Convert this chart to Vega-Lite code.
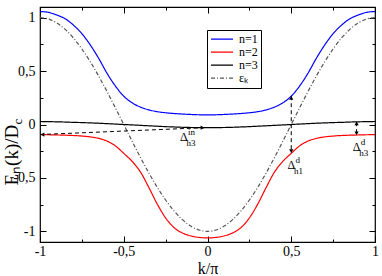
{
  "$schema": "https://vega.github.io/schema/vega-lite/v6.json",
  "width": 335,
  "height": 235,
  "autosize": {"type": "none"},
  "padding": {"left": 40, "top": 7, "right": 7, "bottom": 34},
  "background": "white",
  "config": {"view": {"stroke": "#000", "strokeWidth": 1.2}, "font": "Liberation Serif"},
  "datasets": {
    "curves": [
      {"k": -1, "n=1": 1.058, "n=2": -0.095, "n=3": 0.028, "εₖ": 1},
      {"k": -0.95, "n=1": 1.05, "n=2": -0.096, "n=3": 0.027, "εₖ": 0.988},
      {"k": -0.9, "n=1": 1.025, "n=2": -0.098, "n=3": 0.025, "εₖ": 0.951},
      {"k": -0.85, "n=1": 0.99, "n=2": -0.1, "n=3": 0.023, "εₖ": 0.891},
      {"k": -0.8, "n=1": 0.93, "n=2": -0.103, "n=3": 0.02, "εₖ": 0.809},
      {"k": -0.75, "n=1": 0.85, "n=2": -0.108, "n=3": 0.018, "εₖ": 0.707},
      {"k": -0.7, "n=1": 0.745, "n=2": -0.116, "n=3": 0.015, "εₖ": 0.588},
      {"k": -0.65, "n=1": 0.62, "n=2": -0.13, "n=3": 0.012, "εₖ": 0.454},
      {"k": -0.6, "n=1": 0.48, "n=2": -0.155, "n=3": 0.008, "εₖ": 0.309},
      {"k": -0.55, "n=1": 0.36, "n=2": -0.2, "n=3": 0.004, "εₖ": 0.156},
      {"k": -0.5, "n=1": 0.265, "n=2": -0.27, "n=3": 0, "εₖ": 0},
      {"k": -0.45, "n=1": 0.203, "n=2": -0.345, "n=3": -0.004, "εₖ": -0.156},
      {"k": -0.4, "n=1": 0.163, "n=2": -0.445, "n=3": -0.008, "εₖ": -0.309},
      {"k": -0.35, "n=1": 0.137, "n=2": -0.59, "n=3": -0.012, "εₖ": -0.454},
      {"k": -0.3, "n=1": 0.12, "n=2": -0.745, "n=3": -0.016, "εₖ": -0.588},
      {"k": -0.25, "n=1": 0.11, "n=2": -0.875, "n=3": -0.02, "εₖ": -0.707},
      {"k": -0.2, "n=1": 0.103, "n=2": -0.965, "n=3": -0.023, "εₖ": -0.809},
      {"k": -0.15, "n=1": 0.098, "n=2": -1.015, "n=3": -0.026, "εₖ": -0.891},
      {"k": -0.1, "n=1": 0.094, "n=2": -1.043, "n=3": -0.028, "εₖ": -0.951},
      {"k": -0.05, "n=1": 0.091, "n=2": -1.057, "n=3": -0.029, "εₖ": -0.988},
      {"k": 0, "n=1": 0.09, "n=2": -1.062, "n=3": -0.03, "εₖ": -1},
      {"k": 0.05, "n=1": 0.091, "n=2": -1.057, "n=3": -0.029, "εₖ": -0.988},
      {"k": 0.1, "n=1": 0.094, "n=2": -1.043, "n=3": -0.028, "εₖ": -0.951},
      {"k": 0.15, "n=1": 0.098, "n=2": -1.015, "n=3": -0.026, "εₖ": -0.891},
      {"k": 0.2, "n=1": 0.103, "n=2": -0.965, "n=3": -0.023, "εₖ": -0.809},
      {"k": 0.25, "n=1": 0.11, "n=2": -0.875, "n=3": -0.02, "εₖ": -0.707},
      {"k": 0.3, "n=1": 0.12, "n=2": -0.745, "n=3": -0.016, "εₖ": -0.588},
      {"k": 0.35, "n=1": 0.137, "n=2": -0.59, "n=3": -0.012, "εₖ": -0.454},
      {"k": 0.4, "n=1": 0.163, "n=2": -0.445, "n=3": -0.008, "εₖ": -0.309},
      {"k": 0.45, "n=1": 0.203, "n=2": -0.345, "n=3": -0.004, "εₖ": -0.156},
      {"k": 0.5, "n=1": 0.265, "n=2": -0.27, "n=3": 0, "εₖ": 0},
      {"k": 0.55, "n=1": 0.36, "n=2": -0.2, "n=3": 0.004, "εₖ": 0.156},
      {"k": 0.6, "n=1": 0.48, "n=2": -0.155, "n=3": 0.008, "εₖ": 0.309},
      {"k": 0.65, "n=1": 0.62, "n=2": -0.13, "n=3": 0.012, "εₖ": 0.454},
      {"k": 0.7, "n=1": 0.745, "n=2": -0.116, "n=3": 0.015, "εₖ": 0.588},
      {"k": 0.75, "n=1": 0.85, "n=2": -0.108, "n=3": 0.018, "εₖ": 0.707},
      {"k": 0.8, "n=1": 0.93, "n=2": -0.103, "n=3": 0.02, "εₖ": 0.809},
      {"k": 0.85, "n=1": 0.99, "n=2": -0.1, "n=3": 0.023, "εₖ": 0.891},
      {"k": 0.9, "n=1": 1.025, "n=2": -0.098, "n=3": 0.025, "εₖ": 0.951},
      {"k": 0.95, "n=1": 1.05, "n=2": -0.096, "n=3": 0.027, "εₖ": 0.988},
      {"k": 1, "n=1": 1.058, "n=2": -0.095, "n=3": 0.028, "εₖ": 1}
    ],
    "arrows": [
      {"k1": -1, "E1": -0.094, "k2": -0.02, "E2": -0.03},
      {"k1": 0.5, "E1": 0.265, "k2": 0.5, "E2": -0.265},
      {"k1": 0.89, "E1": 0.022, "k2": 0.89, "E2": -0.095}
    ],
    "heads": [
      {"k": -0.985, "E": -0.094, "dir": "left"},
      {"k": -0.03, "E": -0.03, "dir": "right"},
      {"k": 0.5, "E": 0.25, "dir": "up"},
      {"k": 0.5, "E": -0.25, "dir": "down"},
      {"k": 0.89, "E": 0.01, "dir": "up"},
      {"k": 0.89, "E": -0.083, "dir": "down"}
    ],
    "labels": [
      {"k": -0.164, "E": -0.15, "main": "Δ", "sup": "in", "sub": "h3"},
      {"k": 0.478, "E": -0.413, "main": "Δ", "sup": "d", "sub": "h1"},
      {"k": 0.867, "E": -0.244, "main": "Δ", "sup": "d", "sub": "h3"}
    ]
  },
  "resolve": {"axis": {"x": "independent", "y": "independent"}},
  "layer": [
    {
      "data": {"name": "curves"},
      "transform": [{"fold": ["n=1", "n=2", "n=3", "εₖ"], "as": ["s", "E"]}],
      "mark": {"type": "line", "interpolate": "monotone", "strokeWidth": 1.2, "clip": true},
      "encoding": {
        "x": {"field": "k", "type": "quantitative", "scale": {"domain": [-1, 1], "nice": false, "zero": false},
          "axis": {"orient": "bottom", "values": [-1, -0.5, 0, 0.5, 1], "ticks": false, "domain": false, "grid": false,
            "labelPadding": 2, "labelFontSize": 14, "labelFont": "Liberation Serif", "labelColor": "#000",
            "labelExpr": "replace(toString(datum.value), '.', ',')", "labelFlush": false, "labelOverlap": false,
            "title": "k/π", "titleFont": "Liberation Serif", "titleFontSize": 16, "titleFontWeight": "normal", "titleColor": "#000",
            "titleX": 167.5, "titleY": 31, "titleBaseline": "alphabetic", "titleAlign": "center"}},
        "y": {"field": "E", "type": "quantitative", "scale": {"domain": [-1.1, 1.1], "nice": false, "zero": false},
          "axis": {"orient": "left", "values": [-1, -0.5, 0, 0.5, 1], "ticks": false, "domain": false, "grid": false,
            "labelPadding": 5, "labelFontSize": 14, "labelFont": "Liberation Serif", "labelColor": "#000",
            "labelExpr": "replace(toString(datum.value), '.', ',')", "labelFlush": false, "labelOverlap": false,
            "title": "Eₙ(k)/D", "titleFont": "Liberation Serif", "titleFontSize": 19, "titleFontWeight": "normal", "titleColor": "#000",
            "titleAngle": 270, "titleAlign": "left", "titleBaseline": "alphabetic", "titleX": -23, "titleY": 178}},
        "color": {"field": "s", "type": "nominal",
          "scale": {"domain": ["n=1", "n=2", "n=3", "εₖ"], "range": ["#0000ff", "#ff0000", "#000000", "#555555"]},
          "legend": {"orient": "none", "legendX": 167, "legendY": 23, "title": null, "strokeColor": "#000", "fillColor": "#fff",
            "padding": 3, "labelFont": "Liberation Serif", "labelFontSize": 12, "labelColor": "#000", "symbolType": "stroke",
            "symbolSize": 484, "symbolStrokeWidth": 1.3, "clipHeight": 12.3, "rowPadding": 0, "columnPadding": 0, "labelOffset": 5}},
        "strokeDash": {"field": "s", "type": "nominal",
          "scale": {"domain": ["n=1", "n=2", "n=3", "εₖ"], "range": [[1, 0], [1, 0], [1, 0], [4, 2, 1, 2]]}}
      }
    },
    {
      "data": {"name": "arrows"},
      "mark": {"type": "rule", "strokeDash": [4, 3], "color": "#000", "strokeWidth": 1},
      "encoding": {
        "x": {"field": "k1", "type": "quantitative",
          "axis": {"orient": "bottom", "values": [-1, -0.5, 0, 0.5, 1], "tickSize": -6, "tickColor": "#000", "labels": false, "domain": false, "grid": false, "title": null}},
        "y": {"field": "E1", "type": "quantitative",
          "axis": {"orient": "left", "values": [-1, -0.5, 0, 0.5, 1], "tickSize": -6, "tickColor": "#000", "labels": false, "domain": false, "grid": false, "title": null}},
        "x2": {"field": "k2"},
        "y2": {"field": "E2"}
      }
    },
    {
      "data": {"name": "heads"},
      "mark": {"type": "point", "filled": true, "color": "#000", "size": 18, "opacity": 1},
      "encoding": {
        "x": {"field": "k", "type": "quantitative",
          "axis": {"orient": "bottom", "values": [-0.75, -0.25, 0.25, 0.75], "tickSize": -3, "tickColor": "#000", "labels": false, "domain": false, "grid": false, "title": null}},
        "y": {"field": "E", "type": "quantitative",
          "axis": {"orient": "left", "values": [-0.75, -0.25, 0.25, 0.75], "tickSize": -3, "tickColor": "#000", "labels": false, "domain": false, "grid": false, "title": null}},
        "shape": {"field": "dir", "type": "nominal",
          "scale": {"domain": ["up", "down", "left", "right"], "range": ["triangle-up", "triangle-down", "triangle-left", "triangle-right"]}, "legend": null}
      }
    },
    {
      "data": {"name": "labels"},
      "mark": {"type": "text", "align": "left", "baseline": "alphabetic", "fontSize": 12, "font": "Liberation Serif", "color": "#000"},
      "encoding": {
        "x": {"field": "k", "type": "quantitative",
          "axis": {"orient": "top", "values": [-1, -0.5, 0, 0.5, 1], "tickSize": -6, "tickColor": "#000", "labels": false, "domain": false, "grid": false, "title": null}},
        "y": {"field": "E", "type": "quantitative",
          "axis": {"orient": "right", "values": [-1, -0.5, 0, 0.5, 1], "tickSize": -6, "tickColor": "#000", "labels": false, "domain": false, "grid": false, "title": null}},
        "text": {"field": "main"}
      }
    },
    {
      "data": {"name": "labels"},
      "mark": {"type": "text", "align": "left", "baseline": "alphabetic", "fontSize": 9, "font": "Liberation Serif", "color": "#000", "dx": 8, "dy": -6},
      "encoding": {
        "x": {"field": "k", "type": "quantitative",
          "axis": {"orient": "top", "values": [-0.75, -0.25, 0.25, 0.75], "tickSize": -3, "tickColor": "#000", "labels": false, "domain": false, "grid": false, "title": null}},
        "y": {"field": "E", "type": "quantitative",
          "axis": {"orient": "right", "values": [-0.75, -0.25, 0.25, 0.75], "tickSize": -3, "tickColor": "#000", "labels": false, "domain": false, "grid": false, "title": null}},
        "text": {"field": "sup"}
      }
    },
    {
      "data": {"name": "labels"},
      "mark": {"type": "text", "align": "left", "baseline": "alphabetic", "fontSize": 9, "font": "Liberation Serif", "color": "#000", "dx": 6.5, "dy": 5},
      "encoding": {
        "x": {"field": "k", "type": "quantitative", "axis": null},
        "y": {"field": "E", "type": "quantitative",
          "axis": {"orient": "left", "ticks": false, "labels": false, "domain": false, "grid": false,
            "title": "c", "titleFont": "Liberation Serif", "titleFontSize": 13, "titleFontWeight": "normal", "titleColor": "#000",
            "titleAngle": 270, "titleAlign": "left", "titleBaseline": "alphabetic", "titleX": -19, "titleY": 117}},
        "text": {"field": "sub"}
      }
    }
  ]
}
